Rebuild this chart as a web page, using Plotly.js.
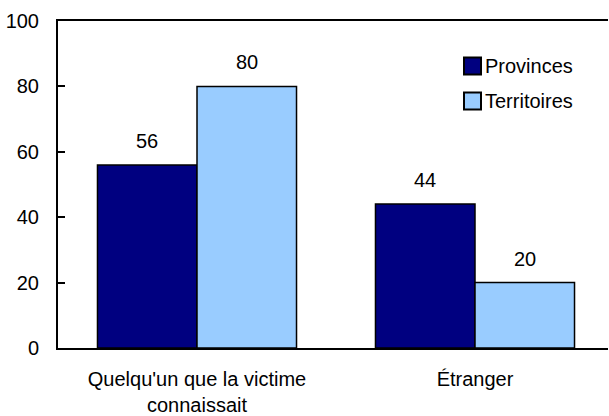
<!DOCTYPE html>
<html>
<head>
<meta charset="utf-8">
<script src="https://cdn.plot.ly/plotly-3.0.1.min.js"></script>
<style>html,body{margin:0;padding:0;background:#fff;}#chart{width:609px;height:416px;}</style>
</head>
<body>
<div id="chart"></div>
<script>
const categories = ["Quelqu'un que la victime<br>connaissait", "Étranger"];
const seriesNames = ["Provinces", "Territoires"];
const provinces = [56, 44];
const territoires = [80, 20];
const seriesColors = ["#000080", "#99CCFF"];
const yTicks = [0, 20, 40, 60, 80, 100];

const FONT = "Liberation Sans, Arial, Helvetica, sans-serif";
const FS = 20;
const series = [provinces, territoires];
const bargap = 0.284;
const barW = (1 - bargap) / 2;

const traces = series.map((vals, i) => ({
  type: 'bar',
  x: categories,
  y: vals,
  name: seriesNames[i],
  marker: {color: seriesColors[i], line: {color: '#000', width: 1.5}},
  hoverinfo: 'skip'
}));

const annotations = [];
series.forEach((vals, i) => {
  vals.forEach((v, j) => {
    annotations.push({
      x: j + (i - 0.5) * barW, y: v, xref: 'x', yref: 'y',
      text: String(v), showarrow: false, yanchor: 'bottom', yshift: 11,
      font: {family: FONT, size: FS, color: '#000'}
    });
  });
});

// legend built from series names/colors
const L = 58, R = 608, T = 21, B = 348;
const px = v => (v - L) / (R - L);
const py = v => (B - v) / (B - T);
const legendRows = [66, 101];
const shapes = [];
seriesNames.forEach((n, i) => {
  const cy = legendRows[i];
  shapes.push({type: 'rect', xref: 'paper', yref: 'paper',
    x0: px(464), x1: px(481), y0: py(cy + 8.5), y1: py(cy - 8.5),
    fillcolor: seriesColors[i], line: {color: '#000', width: 2}});
  annotations.push({xref: 'paper', yref: 'paper', x: px(483), y: py(cy),
    xanchor: 'left', yanchor: 'middle', text: n, showarrow: false,
    font: {family: FONT, size: FS, color: '#000'}});
});

const layout = {
  width: 609, height: 416,
  margin: {l: L, r: 609 - R, t: T, b: 416 - B, pad: 0},
  paper_bgcolor: '#fff', plot_bgcolor: '#fff',
  font: {family: FONT, size: FS, color: '#000'},
  showlegend: false,
  barmode: 'group', bargap: bargap, bargroupgap: 0,
  xaxis: {
    type: 'category',
    range: [-0.5, -0.5 + (R - L) / 278],
    showline: true, linecolor: '#000', linewidth: 2, mirror: true,
    ticks: '', showgrid: false, zeroline: false,
    ticklabelstandoff: 12,
    tickfont: {family: FONT, size: FS, color: '#000'}
  },
  yaxis: {
    range: [0, 100], tickvals: yTicks, ticktext: yTicks.map(String),
    showline: true, linecolor: '#000', linewidth: 2,
    ticks: 'inside', ticklen: 7, tickwidth: 2, tickcolor: '#000',
    showgrid: false, zeroline: false,
    ticklabelstandoff: 13,
    tickfont: {family: FONT, size: FS, color: '#000'}
  },
  shapes: shapes,
  annotations: annotations
};

Plotly.newPlot('chart', traces, layout, {staticPlot: true, displayModeBar: false});
</script>
</body>
</html>
